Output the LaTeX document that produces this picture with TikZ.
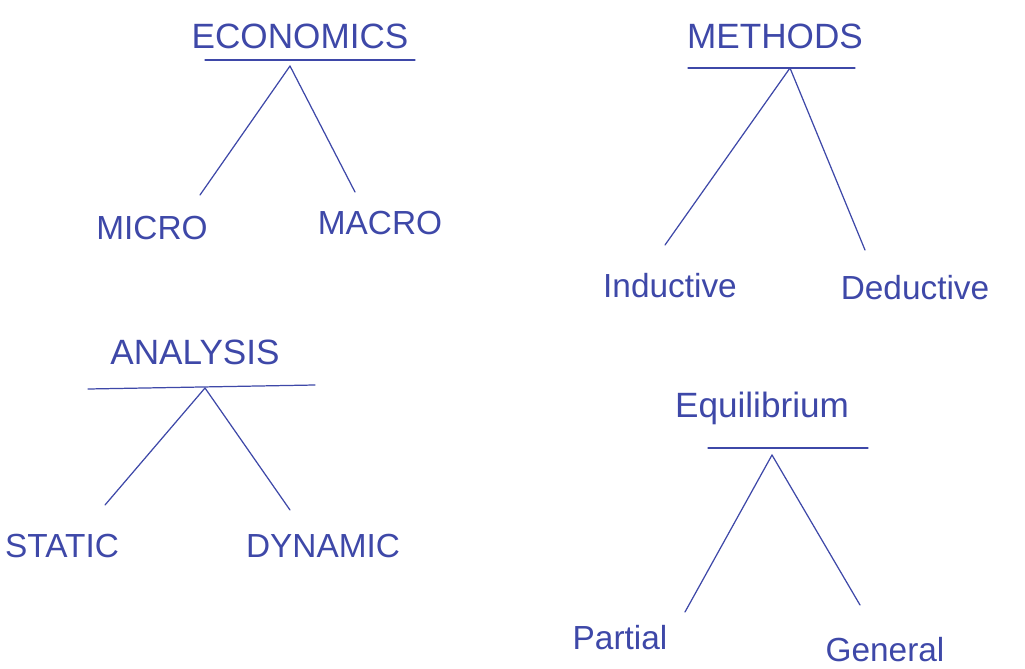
\documentclass[tikz,border=0pt]{standalone}
\usepackage{fontspec}
\setmainfont{Liberation Sans}
\definecolor{ink}{RGB}{62,72,168}
\begin{document}
\begin{tikzpicture}[x=0.02cm,y=-0.02cm,
  ink/.style={draw=ink,line width=0.7pt,line cap=round},
  head/.style={text=ink,font=\fontsize{20}{22}\selectfont},
  leaf/.style={text=ink,font=\fontsize{19}{21}\selectfont}]
\useasboundingbox (0,0) rectangle (1025,669);
% ECONOMICS
\node[head] (econ) at (300,36) {ECONOMICS};
\coordinate (econL) at (205,60); \coordinate (econR) at (415,60);
\coordinate (econA) at (290,66);
\coordinate (microT) at (200,195); \coordinate (macroT) at (355,192);
\node[leaf] (micro) at (152,228) {MICRO};
\node[leaf] (macro) at (380,223) {MACRO};
\draw[ink] (econL) -- (econR);
\draw[ink] (econA) -- (microT);
\draw[ink] (econA) -- (macroT);
% METHODS
\node[head] (meth) at (775,36) {METHODS};
\coordinate (methL) at (688,68); \coordinate (methR) at (855,68);
\coordinate (methA) at (790,68);
\coordinate (indT) at (665,245); \coordinate (dedT) at (865,250);
\node[leaf] (ind) at (670,286) {Inductive};
\node[leaf] (ded) at (915,288) {Deductive};
\draw[ink] (methL) -- (methR);
\draw[ink] (methA) -- (indT);
\draw[ink] (methA) -- (dedT);
% ANALYSIS
\node[head] (anal) at (195,352) {ANALYSIS};
\coordinate (analL) at (88,389); \coordinate (analR) at (315,385);
\coordinate (analA) at (205,388);
\coordinate (statT) at (105,505); \coordinate (dynT) at (290,510);
\node[leaf] (stat) at (62,546) {STATIC};
\node[leaf] (dyn) at (323,546) {DYNAMIC};
\draw[ink] (analL) -- (analR);
\draw[ink] (analA) -- (statT);
\draw[ink] (analA) -- (dynT);
% Equilibrium
\node[head] (equi) at (762,408) {Equilibrium};
\coordinate (equiL) at (708,448); \coordinate (equiR) at (868,448);
\coordinate (equiA) at (772,455);
\coordinate (partT) at (685,612); \coordinate (genT) at (860,605);
\node[leaf] (part) at (620,638) {Partial};
\node[leaf] (gen) at (885,650) {General};
\draw[ink] (equiL) -- (equiR);
\draw[ink] (equiA) -- (partT);
\draw[ink] (equiA) -- (genT);
\end{tikzpicture}
\end{document}
